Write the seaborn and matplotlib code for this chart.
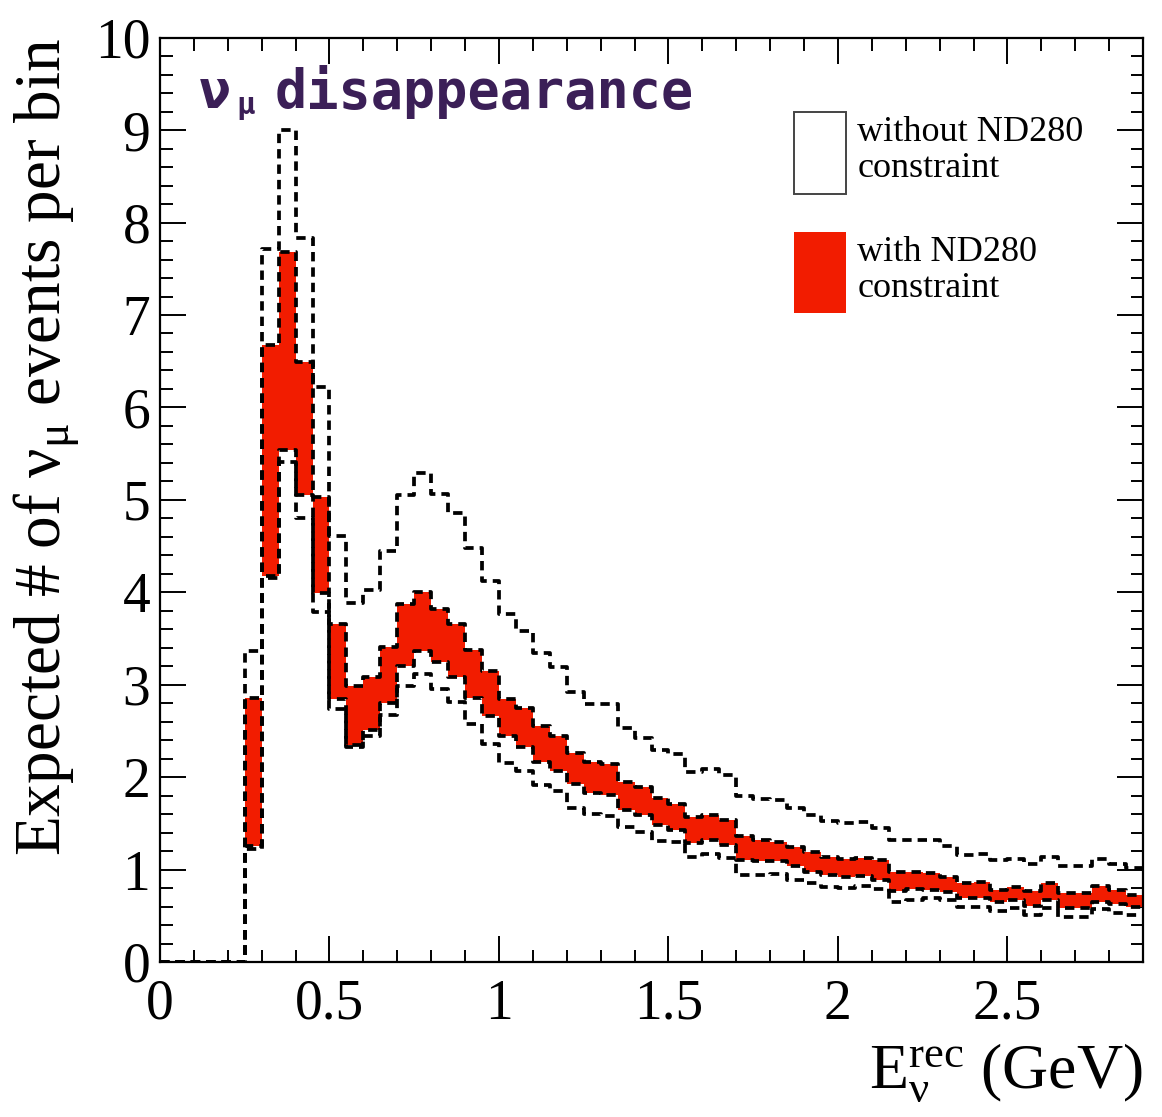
import numpy as np
import matplotlib
matplotlib.use("Agg")
import matplotlib.pyplot as plt
import seaborn as sns
from matplotlib.ticker import MultipleLocator, FixedLocator, FixedFormatter
from matplotlib.patches import Patch

# ---------------- data ----------------
bin_edges = np.round(np.arange(0, 2.9001, 0.05), 2)   # 58 bins of 0.05 GeV

without_upper = [0, 0, 0, 0, 0,
                 3.36, 7.71, 9.00, 7.83, 6.22, 4.61, 3.88, 4.03, 4.45, 5.05,
                 5.29, 5.06, 4.86, 4.48, 4.12, 3.76, 3.58, 3.34, 3.19, 2.92,
                 2.79, 2.79, 2.53, 2.42, 2.29, 2.25, 2.06, 2.09, 2.02, 1.80,
                 1.76, 1.75, 1.67, 1.59, 1.53, 1.50, 1.51, 1.45, 1.32, 1.32,
                 1.32, 1.26, 1.16, 1.17, 1.10, 1.11, 1.06, 1.14, 1.04, 1.04,
                 1.11, 1.065, 1.02]
with_upper = [0, 0, 0, 0, 0,
              2.86, 6.67, 7.68, 6.49, 5.03, 3.66, 2.99, 3.08, 3.41, 3.87,
              4.00, 3.82, 3.66, 3.38, 3.15, 2.85, 2.75, 2.55, 2.45, 2.26,
              2.16, 2.14, 1.95, 1.89, 1.77, 1.71, 1.57, 1.59, 1.54, 1.36,
              1.32, 1.30, 1.245, 1.19, 1.14, 1.11, 1.13, 1.10, 0.97, 0.97,
              0.96, 0.92, 0.85, 0.865, 0.78, 0.81, 0.77, 0.855, 0.75, 0.75,
              0.82, 0.78, 0.73]
with_lower = [0, 0, 0, 0, 0,
              1.26, 4.18, 5.54, 5.05, 3.99, 2.85, 2.35, 2.51, 2.80, 3.20,
              3.37, 3.25, 3.08, 2.86, 2.66, 2.44, 2.33, 2.16, 2.07, 1.93,
              1.83, 1.81, 1.64, 1.59, 1.48, 1.43, 1.29, 1.32, 1.27, 1.10,
              1.09, 1.09, 1.036, 0.97, 0.94, 0.915, 0.93, 0.89, 0.77, 0.79,
              0.78, 0.76, 0.69, 0.695, 0.65, 0.67, 0.61, 0.67, 0.58, 0.58,
              0.65, 0.625, 0.60]
without_lower = [0, 0, 0, 0, 0,
                 1.22, 4.15, 5.41, 4.80, 3.79, 2.74, 2.33, 2.44, 2.67, 2.99,
                 3.12, 2.95, 2.81, 2.57, 2.36, 2.15, 2.07, 1.92, 1.85, 1.67,
                 1.60, 1.58, 1.46, 1.41, 1.31, 1.30, 1.14, 1.17, 1.12, 0.94,
                 0.94, 0.95, 0.89, 0.85, 0.81, 0.80, 0.82, 0.79, 0.65, 0.67,
                 0.69, 0.67, 0.59, 0.60, 0.55, 0.58, 0.505, 0.58, 0.49, 0.49,
                 0.57, 0.53, 0.505]

x_ticks = [0, 0.5, 1, 1.5, 2, 2.5]
x_tick_labels = ["0", "0.5", "1", "1.5", "2", "2.5"]
y_ticks = list(range(0, 11))
y_tick_labels = [str(v) for v in y_ticks]
legend_labels = ["without ND280\nconstraint", "with ND280\nconstraint"]
y_label = "Expected # of \u03bd$_{\\mathrm{\u03bc}}$ events per bin"
x_label = "E$_{\\mathrm{\u03bd}}^{\\mathrm{rec}}$ (GeV)"
title_nu, title_mu, title_word = "\u03bd", "\u03bc", "disappearance"

# ---------------- style ----------------
sns.set_theme(style="ticks")
plt.rcParams["font.family"] = ["Liberation Serif", "DejaVu Serif"]
plt.rcParams["mathtext.fontset"] = "custom"
plt.rcParams["mathtext.rm"] = "Liberation Serif"
plt.rcParams["mathtext.it"] = "Liberation Serif:italic"
plt.rcParams["mathtext.bf"] = "Liberation Serif:bold"
for k in ("text.color", "axes.labelcolor", "xtick.color", "ytick.color",
          "axes.edgecolor"):
    plt.rcParams[k] = "black"

RED = "#f21c00"
DASH = (0, (2.5, 1.6))
LW = 2.7

W, H = 1162, 1117
fig = plt.figure(figsize=(W / 100, H / 100), dpi=100)
fig.patch.set_facecolor("white")
ax = fig.add_axes([160 / W, 1 - 962 / H, (1143 - 160) / W, (962 - 37.7) / H])
ax.set_facecolor("white")


def ext(v):
    v = np.asarray(v, dtype=float)
    return np.append(v, v[-1])


# red band (with ND280 constraint)
ax.fill_between(bin_edges, ext(with_lower), ext(with_upper), step="post",
                color=RED, lw=0, zorder=2)

# dashed step outlines
for vals in (without_upper, without_lower, with_upper, with_lower):
    sns.lineplot(x=bin_edges, y=ext(vals), ax=ax, drawstyle="steps-post",
                 color="black", linewidth=LW, linestyle=DASH,
                 estimator=None, errorbar=None, sort=False, zorder=3)

ax.set_xlim(0, 2.9)
ax.set_ylim(0, 10)
ax.xaxis.set_major_locator(FixedLocator(x_ticks))
ax.xaxis.set_major_formatter(FixedFormatter(x_tick_labels))
ax.xaxis.set_minor_locator(MultipleLocator(0.1))
ax.yaxis.set_major_locator(FixedLocator(y_ticks))
ax.yaxis.set_major_formatter(FixedFormatter(y_tick_labels))
ax.yaxis.set_minor_locator(MultipleLocator(0.2))
ax.tick_params(which="both", direction="in", top=True, right=True,
               color="black", labelcolor="black", width=1.4)
ax.tick_params(which="major", length=19)
ax.tick_params(which="minor", length=9)
ax.tick_params(axis="x", which="major", labelsize=40, pad=12)
ax.tick_params(axis="y", which="major", labelsize=40, pad=7)
for s in ax.spines.values():
    s.set_color("black")
    s.set_linewidth(1.6)
ax.set_xlabel("")
ax.set_ylabel("")

# axis labels
fig.text(47 / W, 1 - 38 / H, y_label, rotation=90, ha="center", va="top",
         fontsize=47, color="black")
fig.text(1143 / W, 1 - 1073 / H, x_label, ha="right", va="center",
         fontsize=46, color="black")

# title
tcol = "#3b1f57"
fig.text(199 / W, 1 - 108 / H, title_nu, fontsize=38.5, color=tcol,
         family="DejaVu Sans Mono", weight="bold", ha="left", va="baseline")
fig.text(236 / W, 1 - 114 / H, title_mu, fontsize=22, color=tcol,
         family="DejaVu Sans Mono", weight="bold", ha="left", va="baseline")
fig.text(275 / W, 1 - 108 / H, title_word, fontsize=38.5, color=tcol,
         family="DejaVu Sans Mono", weight="bold", ha="left", va="baseline")

# legend
handles = [Patch(facecolor="white", edgecolor="#444444", linewidth=1.4),
           Patch(facecolor=RED, edgecolor=RED, linewidth=0)]
leg = ax.legend(handles, legend_labels, loc="upper left",
                bbox_to_anchor=(794 / W, 1 - 112 / H),
                bbox_transform=fig.transFigure, frameon=False, fontsize=26,
                handlelength=1.45, handleheight=3.1, handletextpad=0.3,
                labelspacing=1.05, borderpad=0, borderaxespad=0)
for t in leg.get_texts():
    t.set_linespacing(1.12)
    t.set_color("black")

fig.savefig("out.png", dpi=100, facecolor="white")
